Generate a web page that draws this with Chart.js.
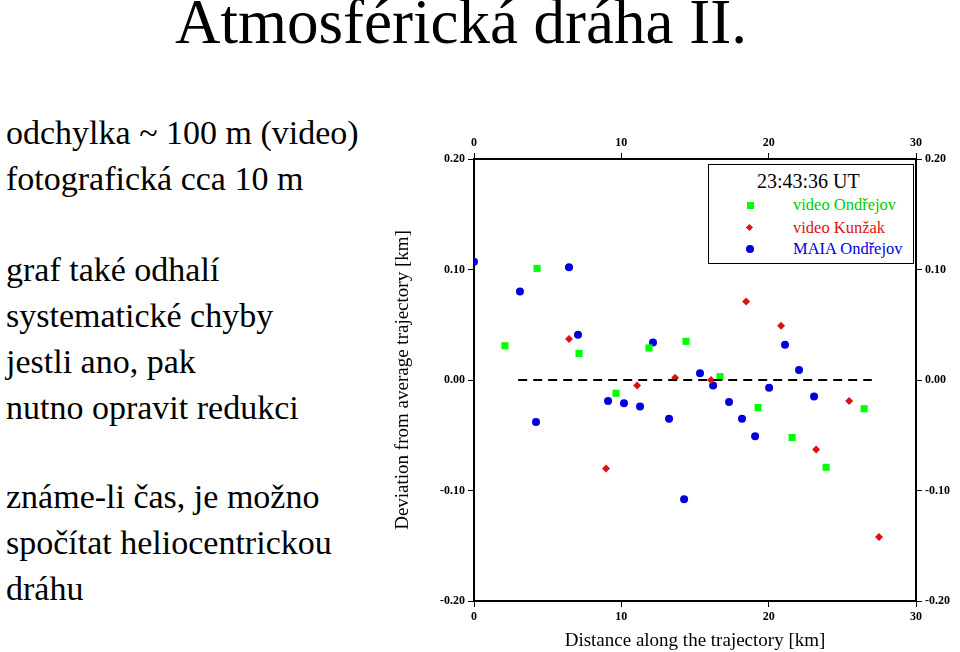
<!DOCTYPE html>
<html><head><meta charset="utf-8">
<script src="https://cdn.jsdelivr.net/npm/chart.js@4"></script>
<style>
body{margin:0;width:960px;height:652px;background:#fff;position:relative;overflow:hidden;font-family:"Liberation Serif","DejaVu Serif",serif;}
#title{position:absolute;left:175px;top:-14px;font-size:63px;white-space:nowrap;}
.t{position:absolute;left:6px;font-size:34px;line-height:46px;white-space:nowrap;}
#wrap{position:absolute;left:390px;top:125px;width:570px;height:527px;}
#leg{position:absolute;left:708px;top:164px;width:204px;height:98px;border:1px solid #000;background:#fff;font-size:16.5px;}
#leg div{position:absolute;left:84px;}
#leg span{position:absolute;}
</style></head><body>
<div id="title">Atmosférická dráha II.</div>
<div class="t" style="top:110px">odchylka ~ 100 m (video)<br>fotografická cca 10 m</div>
<div class="t" style="top:247px">graf také odhalí<br>systematické chyby<br>jestli ano, pak<br>nutno opravit redukci</div>
<div class="t" style="top:474px">známe-li čas, je možno<br>spočítat heliocentrickou<br>dráhu</div>
<div id="wrap"><canvas id="c"></canvas></div>
<div id="leg">
<div style="left:48px;top:5px;font-size:20px">23:43:36 UT</div>
<span style="left:38px;top:37px;width:7px;height:7px;background:#00ff00"></span><div style="top:30px;color:#00cc00">video Ondřejov</div>
<span style="left:38px;top:60px;width:5px;height:5px;background:#dd1111;transform:rotate(45deg)"></span><div style="top:53px;color:#dd1111">video Kunžak</div>
<span style="left:37px;top:80px;width:8px;height:8px;border-radius:50%;background:#0000dd"></span><div style="top:74px;color:#0000dd">MAIA Ondřejov</div>
</div>
<script>
const greenX=[2.1,4.28,7.13,9.64,11.88,14.39,16.70,19.28,21.59,23.90,26.48];
const greenY=[0.031,0.101,0.024,-0.012,0.029,0.035,0.003,-0.025,-0.052,-0.079,-0.026];
const redX=[6.45,8.96,11.07,13.65,16.09,18.47,20.84,23.22,25.46,27.49];
const redY=[0.037,-0.080,-0.005,0.002,0.000,0.071,0.049,-0.063,-0.019,-0.142];
const blueX=[0,3.12,4.21,6.45,7.06,9.10,10.18,11.27,12.15,13.24,14.26,15.34,16.23,17.31,18.19,19.08,20.03,21.11,22.06,23.08];
const blueY=[0.107,0.080,-0.038,0.102,0.041,-0.019,-0.021,-0.024,0.034,-0.035,-0.108,0.006,-0.005,-0.020,-0.035,-0.051,-0.007,0.032,0.009,-0.015];
const refX=[3,27], refY=[0,0];
const pts=(xs,ys)=>xs.map((x,i)=>({x,y:ys[i]}));
const tf={family:"Liberation Serif",size:12,weight:'bold'};
const grid={drawOnChartArea:false,color:'#000',tickLength:6,tickColor:'#000'};
function fit(w){return s=>{s.width=w;};}
function fith(h){return s=>{s.height=h;};}
new Chart(document.getElementById('c'),{
type:'scatter',
data:{datasets:[
{data:pts(refX,refY),showLine:true,borderColor:'#000',borderWidth:2,borderDash:[9,6],pointRadius:0},
{data:pts(greenX,greenY),pointStyle:'rect',pointRadius:5,backgroundColor:'#00ff00',borderWidth:0},
{data:pts(redX,redY),pointStyle:'rectRot',pointRadius:4,backgroundColor:'#dd1111',borderWidth:0},
{data:pts(blueX,blueY),pointStyle:'circle',pointRadius:4,backgroundColor:'#0000dd',borderWidth:0}
]},
options:{responsive:true,maintainAspectRatio:false,animation:false,layout:{padding:0},
plugins:{legend:{display:false},tooltip:{enabled:false}},
scales:{
x:{type:'linear',position:'bottom',min:0,max:30,ticks:{stepSize:10,font:tf,color:'#000',maxRotation:0},grid,border:{color:'#000',width:2},
 title:{display:true,text:'Distance along the trajectory [km]',font:{family:"Liberation Serif",size:19},color:'#000',padding:0},afterFit:fith(51)},
x2:{type:'linear',position:'top',min:0,max:30,ticks:{stepSize:10,font:tf,color:'#000',maxRotation:0},grid,border:{color:'#000',width:2},afterFit:fith(34)},
y:{type:'linear',position:'left',min:-0.2,max:0.2,ticks:{stepSize:0.1,font:tf,color:'#000',callback:v=>v.toFixed(2)},grid,border:{color:'#000',width:2},
 title:{display:true,text:'Deviation from average trajectory [km]',font:{family:"Liberation Serif",size:19},color:'#000',padding:2},afterFit:fit(84)},
y2:{type:'linear',position:'right',min:-0.2,max:0.2,ticks:{stepSize:0.1,font:tf,color:'#000',callback:v=>v.toFixed(2)},grid,border:{color:'#000',width:2},afterFit:fit(44)}
}}});
</script></body></html>
